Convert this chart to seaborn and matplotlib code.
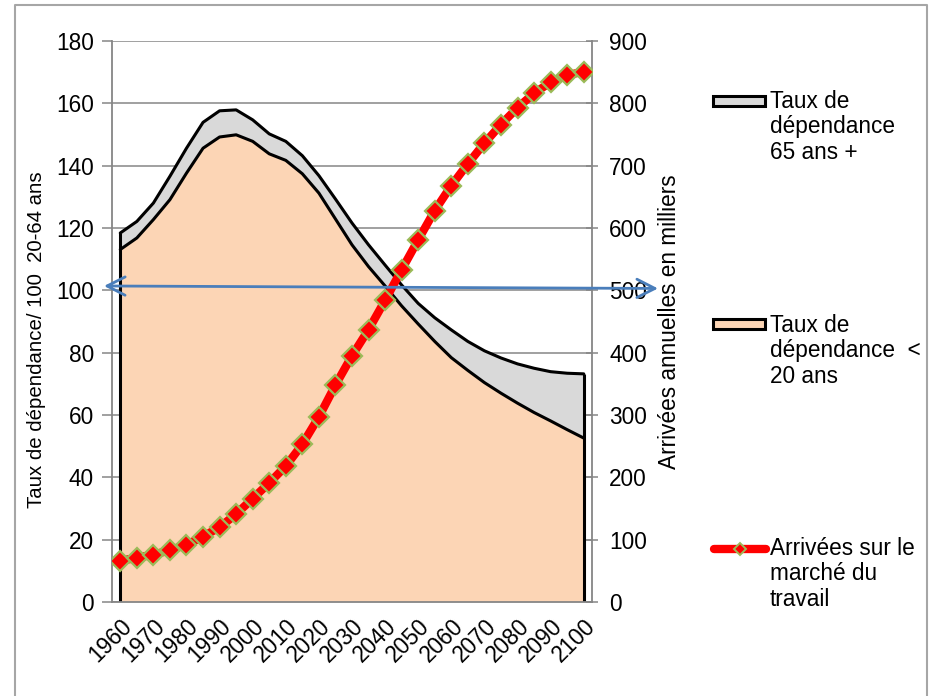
import numpy as np
import matplotlib
matplotlib.use("Agg")
import matplotlib.pyplot as plt
import matplotlib.transforms as mtransforms
from matplotlib.lines import Line2D
from matplotlib.patches import Rectangle
import seaborn as sns

# ---------------- data ----------------
years = list(range(1960, 2101, 5))
tick_years = list(range(1960, 2101, 10))
# Taux de dépendance < 20 ans (pour 100 personnes de 20-64 ans)
under20 = [113.1, 116.8, 122.7, 129.1, 137.6, 145.6, 149.2, 149.9, 147.8, 143.8,
           141.7, 137.4, 131.2, 122.9, 114.6, 107.6, 101.4, 95.0, 89.2, 83.6,
           78.4, 74.3, 70.4, 67.0, 63.8, 60.8, 58.1, 55.3, 52.6]
# Taux de dépendance 65 ans + (empilé au-dessus)
over65 = [5.3, 5.3, 5.3, 7.5, 8.0, 8.3, 8.4, 8.0, 6.9, 6.4,
          6.1, 5.8, 5.6, 6.4, 7.0, 7.0, 6.7, 6.7, 6.6, 7.6,
          8.9, 9.3, 10.2, 11.3, 12.6, 14.2, 15.8, 18.1, 20.6]
# Arrivées sur le marché du travail (milliers par an)
arrivals = [66, 71, 76, 83, 92, 105, 120, 141, 166, 191,
            218, 253, 297, 348, 395, 437, 484, 533, 581, 628,
            668, 703, 736, 766, 793, 816, 834, 845, 851]
arrow_level = [101.4, 100.6]

legend_labels = ["Taux de\ndépendance\n65 ans +",
                 "Taux de\ndépendance  <\n20 ans",
                 "Arrivées sur le\nmarché du\ntravail"]
ylabel_left = "Taux de dépendance/ 100  20-64 ans"
ylabel_right = "Arrivées annuelles en milliers"

# ---------------- style ----------------
sns.set_theme(style="white")
plt.rcParams["font.family"] = ["Liberation Sans", "DejaVu Sans"]
FS = 16.3
GRID = "#868686"
C_GREY = "#D9D9D9"
C_PEACH = "#FCD5B5"

W, H = 935, 696
fig = plt.figure(figsize=(W / 100, H / 100), dpi=100)
fig.patch.set_facecolor("white")
ax = fig.add_axes([112 / W, 1 - 602 / H, 480 / W, 561 / H])

pos = np.arange(len(years))
u = np.array(under20)
tot = u + np.array(over65)

ax.stackplot(pos, under20, over65, colors=[C_PEACH, C_GREY],
             edgecolor="none", linewidth=0, zorder=1)
ax.plot(pos, u, color="black", lw=2.2, solid_joinstyle="round", zorder=2)
ax.plot(pos, tot, color="black", lw=2.2, solid_joinstyle="round", zorder=2)
ax.vlines([pos[0], pos[-1]], 0, [tot[0], tot[-1]], color="black", lw=2.2, zorder=2)

ax.set_xlim(-0.5, len(years) - 0.5)
ax.set_ylim(0, 180)
ax.set_yticks(range(0, 181, 20))
ax.yaxis.grid(True, color=GRID, lw=1.1)
ax.xaxis.grid(False)
ax.set_axisbelow(True)

ax.set_xticks([years.index(y) for y in tick_years])
ax.set_xticklabels([str(y) for y in tick_years], rotation=45, ha="right",
                   rotation_mode="anchor", fontsize=FS)
ax.set_xticks(np.arange(-0.5, len(years), 1), minor=True)
ax.tick_params(axis="x", which="major", length=0, pad=9, labelcolor="black")
ax.tick_params(axis="x", which="minor", length=5, width=1.1, color=GRID, direction="out")
ax.tick_params(axis="y", length=7, width=1.1, color=GRID, direction="out",
               labelsize=FS, labelcolor="black", pad=6)
for s in ["top", "right"]:
    ax.spines[s].set_visible(False)
for s in ["left", "bottom"]:
    ax.spines[s].set_color(GRID)
    ax.spines[s].set_linewidth(1.3)

ax.set_ylabel(ylabel_left, fontsize=14.7, color="black")
ax.yaxis.label.set_rotation_mode("default")
ax.yaxis.label.set_va("center")
ax.yaxis.label.set_ha("center")
ax.yaxis.set_label_coords((37 - 112) / 480, (602 - 340) / 561)

# ---------------- right axis ----------------
ax2 = ax.twinx()
sns.lineplot(x=pos, y=arrivals, ax=ax2, color="#FF0000", lw=6, marker="D",
             markersize=10.5, markerfacecolor="#FF0000", markeredgecolor="#9BBB59",
             markeredgewidth=1.6, legend=False, zorder=5)
ax2.set_xlim(-0.5, len(years) - 0.5)
ax2.set_ylim(0, 900)
ax2.set_yticks(range(0, 901, 100))
ax2.tick_params(axis="y", direction="inout", length=9, width=1.1, color=GRID,
                labelsize=FS, labelcolor="black", pad=8)
for s in ["top", "left", "bottom"]:
    ax2.spines[s].set_visible(False)
ax2.spines["right"].set_color(GRID)
ax2.spines["right"].set_linewidth(1.3)
ax2.set_xlabel("")
ax2.set_ylabel(ylabel_right, fontsize=FS, color="black")
ax2.yaxis.label.set_rotation_mode("default")
ax2.yaxis.label.set_va("center")
ax2.yaxis.label.set_ha("center")
ax2.yaxis.set_label_coords((669 - 112) / 480, (602 - 322) / 561)

# double arrow
trans = mtransforms.blended_transform_factory(ax.transAxes, ax.transData)
ax2.annotate("", xy=((658 - 112) / 480, arrow_level[1]),
             xytext=((104 - 112) / 480, arrow_level[0]),
             xycoords=trans, textcoords=trans, annotation_clip=False,
             arrowprops=dict(arrowstyle="<->,head_length=0.65,head_width=0.33",
                             color="#4A7EBB", lw=2, mutation_scale=20,
                             shrinkA=0, shrinkB=0), zorder=10)

# ---------------- legend (manual, Excel-like) ----------------
def fx(px):
    return px / W

def fy(py):
    return 1 - py / H

for yc, col in [(101, C_GREY), (324, C_PEACH)]:
    fig.add_artist(Rectangle((fx(713), fy(yc + 5)), 52 / W, 10 / H,
                             transform=fig.transFigure, facecolor=col,
                             edgecolor="black", lw=2.2))
fig.add_artist(Line2D([fx(714), fx(766)], [fy(549), fy(549)], color="#FF0000",
                      lw=6, solid_capstyle="round", transform=fig.transFigure))
fig.add_artist(Line2D([fx(740)], [fy(549)], marker="D", markersize=6,
                      markerfacecolor="#FF0000", markeredgecolor="#9BBB59",
                      markeredgewidth=1.4, transform=fig.transFigure))
for yc, lab in zip([127, 351, 574], legend_labels):
    fig.text(fx(770), fy(yc), lab, fontsize=FS, ha="left", va="center",
             linespacing=1.15, color="black")

# outer frame
fig.add_artist(Line2D([fx(15), fx(15), fx(927), fx(927)], [0, fy(5), fy(5), 0],
                      color="#A6A6A6", lw=1.5, transform=fig.transFigure))

fig.savefig("out.png", dpi=100)
